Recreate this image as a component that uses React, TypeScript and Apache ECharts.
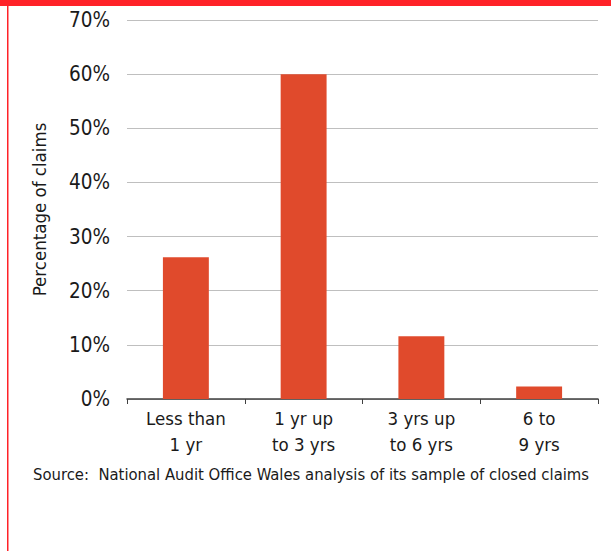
import React, { useEffect, useRef } from "react";
import * as echarts from "echarts";

const categories = ["Less than\n1 yr", "1 yr up\nto 3 yrs", "3 yrs up\nto 6 yrs", "6 to\n9 yrs"];
const values = [26.2, 60, 11.6, 2.3];
const yAxisName = "Percentage of claims";
const sourceText = "Source:  National Audit Office Wales analysis of its sample of closed claims";

const FONT = "'DejaVu Sans Condensed', 'Liberation Sans Narrow', 'Liberation Sans', sans-serif";

export default function App() {
  const ref = useRef<HTMLDivElement>(null);
  useEffect(() => {
    document.body.style.margin = "0";
    const chart = echarts.init(ref.current!, null, { renderer: "svg" });
    chart.setOption({
      animation: false,
      backgroundColor: "#ffffff",
      grid: { left: 127, right: 13, top: 20, bottom: 152, containLabel: false },
      xAxis: {
        type: "category",
        data: categories,
        axisLine: { lineStyle: { color: "#404040", width: 1.5 } },
        axisTick: { show: true, length: 5, lineStyle: { color: "#404040" } },
        axisLabel: { color: "#1a1a1a", fontSize: 18.5, fontFamily: FONT, lineHeight: 26, margin: 6, interval: 0 },
      },
      yAxis: {
        type: "value",
        min: 0,
        max: 70,
        interval: 10,
        name: yAxisName,
        nameLocation: "middle",
        nameGap: 78,
        nameTextStyle: { color: "#1a1a1a", fontSize: 18.5, fontFamily: FONT },
        axisLine: { show: false },
        axisTick: { show: false },
        splitLine: { lineStyle: { color: "#bfbfbf", width: 1 } },
        axisLabel: { color: "#1a1a1a", fontSize: 20.5, fontFamily: FONT, margin: 17, formatter: "{value}%" },
      },
      series: [
        {
          type: "bar",
          data: values,
          barWidth: "39%",
          itemStyle: { color: "#e04a2c" },
        },
      ],
      graphic: [
        { type: "rect", left: 0, top: 0, shape: { width: 611, height: 6 }, style: { fill: "#ff2228" } },
        { type: "rect", left: 7, top: 0, shape: { width: 1.5, height: 551 }, style: { fill: "#ff2228" } },
        {
          type: "text",
          left: 33,
          top: 466,
          style: { text: sourceText, fontSize: 16.5, fontFamily: FONT, fill: "#1a1a1a" },
        },
      ],
    });
    return () => chart.dispose();
  }, []);
  return <div ref={ref} style={{ position: "fixed", left: 0, top: 0, width: 611, height: 551 }} />;
}
